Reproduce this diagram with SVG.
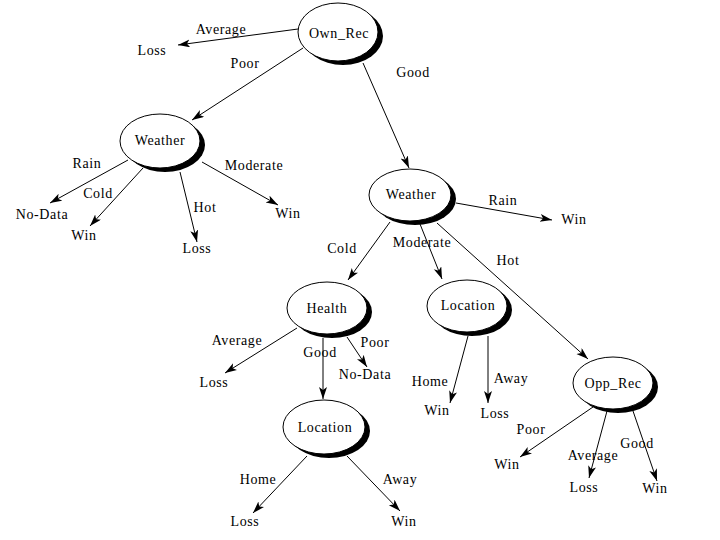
<svg xmlns="http://www.w3.org/2000/svg" width="720" height="540" viewBox="0 0 720 540">
<style>
text{font-family:"Liberation Serif","Times New Roman",serif;font-size:14px;letter-spacing:0.6px;text-anchor:middle;fill:#000}
.sh{fill:#000}
.nd{fill:#fff;stroke:#000;stroke-width:1}
.e{stroke:#000;stroke-width:1;fill:none;marker-end:url(#ah)}
</style>
<defs>
<marker id="ah" markerUnits="userSpaceOnUse" markerWidth="14" markerHeight="10" refX="12" refY="4" orient="auto">
<path d="M0,0 L12,4 L0,8 L3,4 z" fill="#000"/>
</marker>
</defs>
<rect width="720" height="540" fill="#fff"/>
<g id="connectors">
<line class="e" x1="298" y1="29" x2="178" y2="45"/>
<line class="e" x1="303" y1="48" x2="192" y2="120"/>
<line class="e" x1="363" y1="63" x2="409" y2="168"/>
<line class="e" x1="128" y1="160" x2="50" y2="203"/>
<line class="e" x1="143" y1="168" x2="90" y2="226"/>
<line class="e" x1="180" y1="172" x2="197" y2="242"/>
<line class="e" x1="202" y1="162" x2="278" y2="205"/>
<line class="e" x1="456" y1="203" x2="552" y2="220"/>
<line class="e" x1="390" y1="222" x2="348" y2="280"/>
<line class="e" x1="420" y1="224" x2="442" y2="279"/>
<line class="e" x1="437" y1="223" x2="588" y2="359"/>
<line class="e" x1="297" y1="328" x2="225" y2="373"/>
<line class="e" x1="323" y1="338" x2="323" y2="399"/>
<line class="e" x1="347" y1="337" x2="367" y2="367"/>
<line class="e" x1="307" y1="456" x2="253" y2="513"/>
<line class="e" x1="347" y1="456" x2="400" y2="511"/>
<line class="e" x1="468" y1="336" x2="450" y2="403"/>
<line class="e" x1="488" y1="336" x2="488" y2="403"/>
<line class="e" x1="593" y1="407" x2="520" y2="457"/>
<line class="e" x1="607" y1="411" x2="589" y2="478"/>
<line class="e" x1="633" y1="411" x2="657" y2="481"/>
</g>
<g id="own_rec">
<ellipse class="sh" cx="343" cy="36" rx="40" ry="29"/>
<ellipse class="nd" cx="338" cy="32" rx="40" ry="29"/>
<text x="339" y="38">Own_Rec</text>
</g>
<g id="weather1">
<ellipse class="sh" cx="165" cy="145" rx="40" ry="27"/>
<ellipse class="nd" cx="160" cy="141" rx="40" ry="27"/>
<text x="160" y="145">Weather</text>
</g>
<g id="weather2">
<ellipse class="sh" cx="415" cy="199" rx="41" ry="26"/>
<ellipse class="nd" cx="410" cy="195" rx="41" ry="26"/>
<text x="411" y="199">Weather</text>
</g>
<g id="health">
<ellipse class="sh" cx="332" cy="312" rx="40" ry="26"/>
<ellipse class="nd" cx="327" cy="308" rx="40" ry="26"/>
<text x="327" y="313">Health</text>
</g>
<g id="location1">
<ellipse class="sh" cx="329" cy="431" rx="41" ry="27"/>
<ellipse class="nd" cx="324" cy="427" rx="41" ry="27"/>
<text x="325" y="432">Location</text>
</g>
<g id="location2">
<ellipse class="sh" cx="472" cy="310" rx="40" ry="26"/>
<ellipse class="nd" cx="467" cy="306" rx="40" ry="26"/>
<text x="468" y="310">Location</text>
</g>
<g id="opp_rec">
<ellipse class="sh" cx="618" cy="387" rx="40" ry="26"/>
<ellipse class="nd" cx="613" cy="383" rx="40" ry="26"/>
<text x="613" y="388">Opp_Rec</text>
</g>
<g id="labels">
<text x="221" y="34">Average</text>
<text x="245" y="68">Poor</text>
<text x="413" y="77">Good</text>
<text x="87" y="168">Rain</text>
<text x="98" y="198">Cold</text>
<text x="205" y="212">Hot</text>
<text x="254" y="170">Moderate</text>
<text x="503" y="205">Rain</text>
<text x="342" y="253">Cold</text>
<text x="422" y="247">Moderate</text>
<text x="508" y="265">Hot</text>
<text x="237" y="345">Average</text>
<text x="320" y="357">Good</text>
<text x="375" y="347">Poor</text>
<text x="258" y="484">Home</text>
<text x="400" y="484">Away</text>
<text x="430" y="386">Home</text>
<text x="511" y="383">Away</text>
<text x="531" y="434">Poor</text>
<text x="593" y="460">Average</text>
<text x="637" y="448">Good</text>
</g>
<g id="leaves">
<text x="152" y="55">Loss</text>
<text x="42" y="219">No-Data</text>
<text x="84" y="240">Win</text>
<text x="197" y="253">Loss</text>
<text x="288" y="218">Win</text>
<text x="574" y="224">Win</text>
<text x="214" y="387">Loss</text>
<text x="365" y="379">No-Data</text>
<text x="245" y="526">Loss</text>
<text x="404" y="526">Win</text>
<text x="437" y="415">Win</text>
<text x="495" y="418">Loss</text>
<text x="507" y="469">Win</text>
<text x="584" y="492">Loss</text>
<text x="655" y="493">Win</text>
</g>
</svg>
